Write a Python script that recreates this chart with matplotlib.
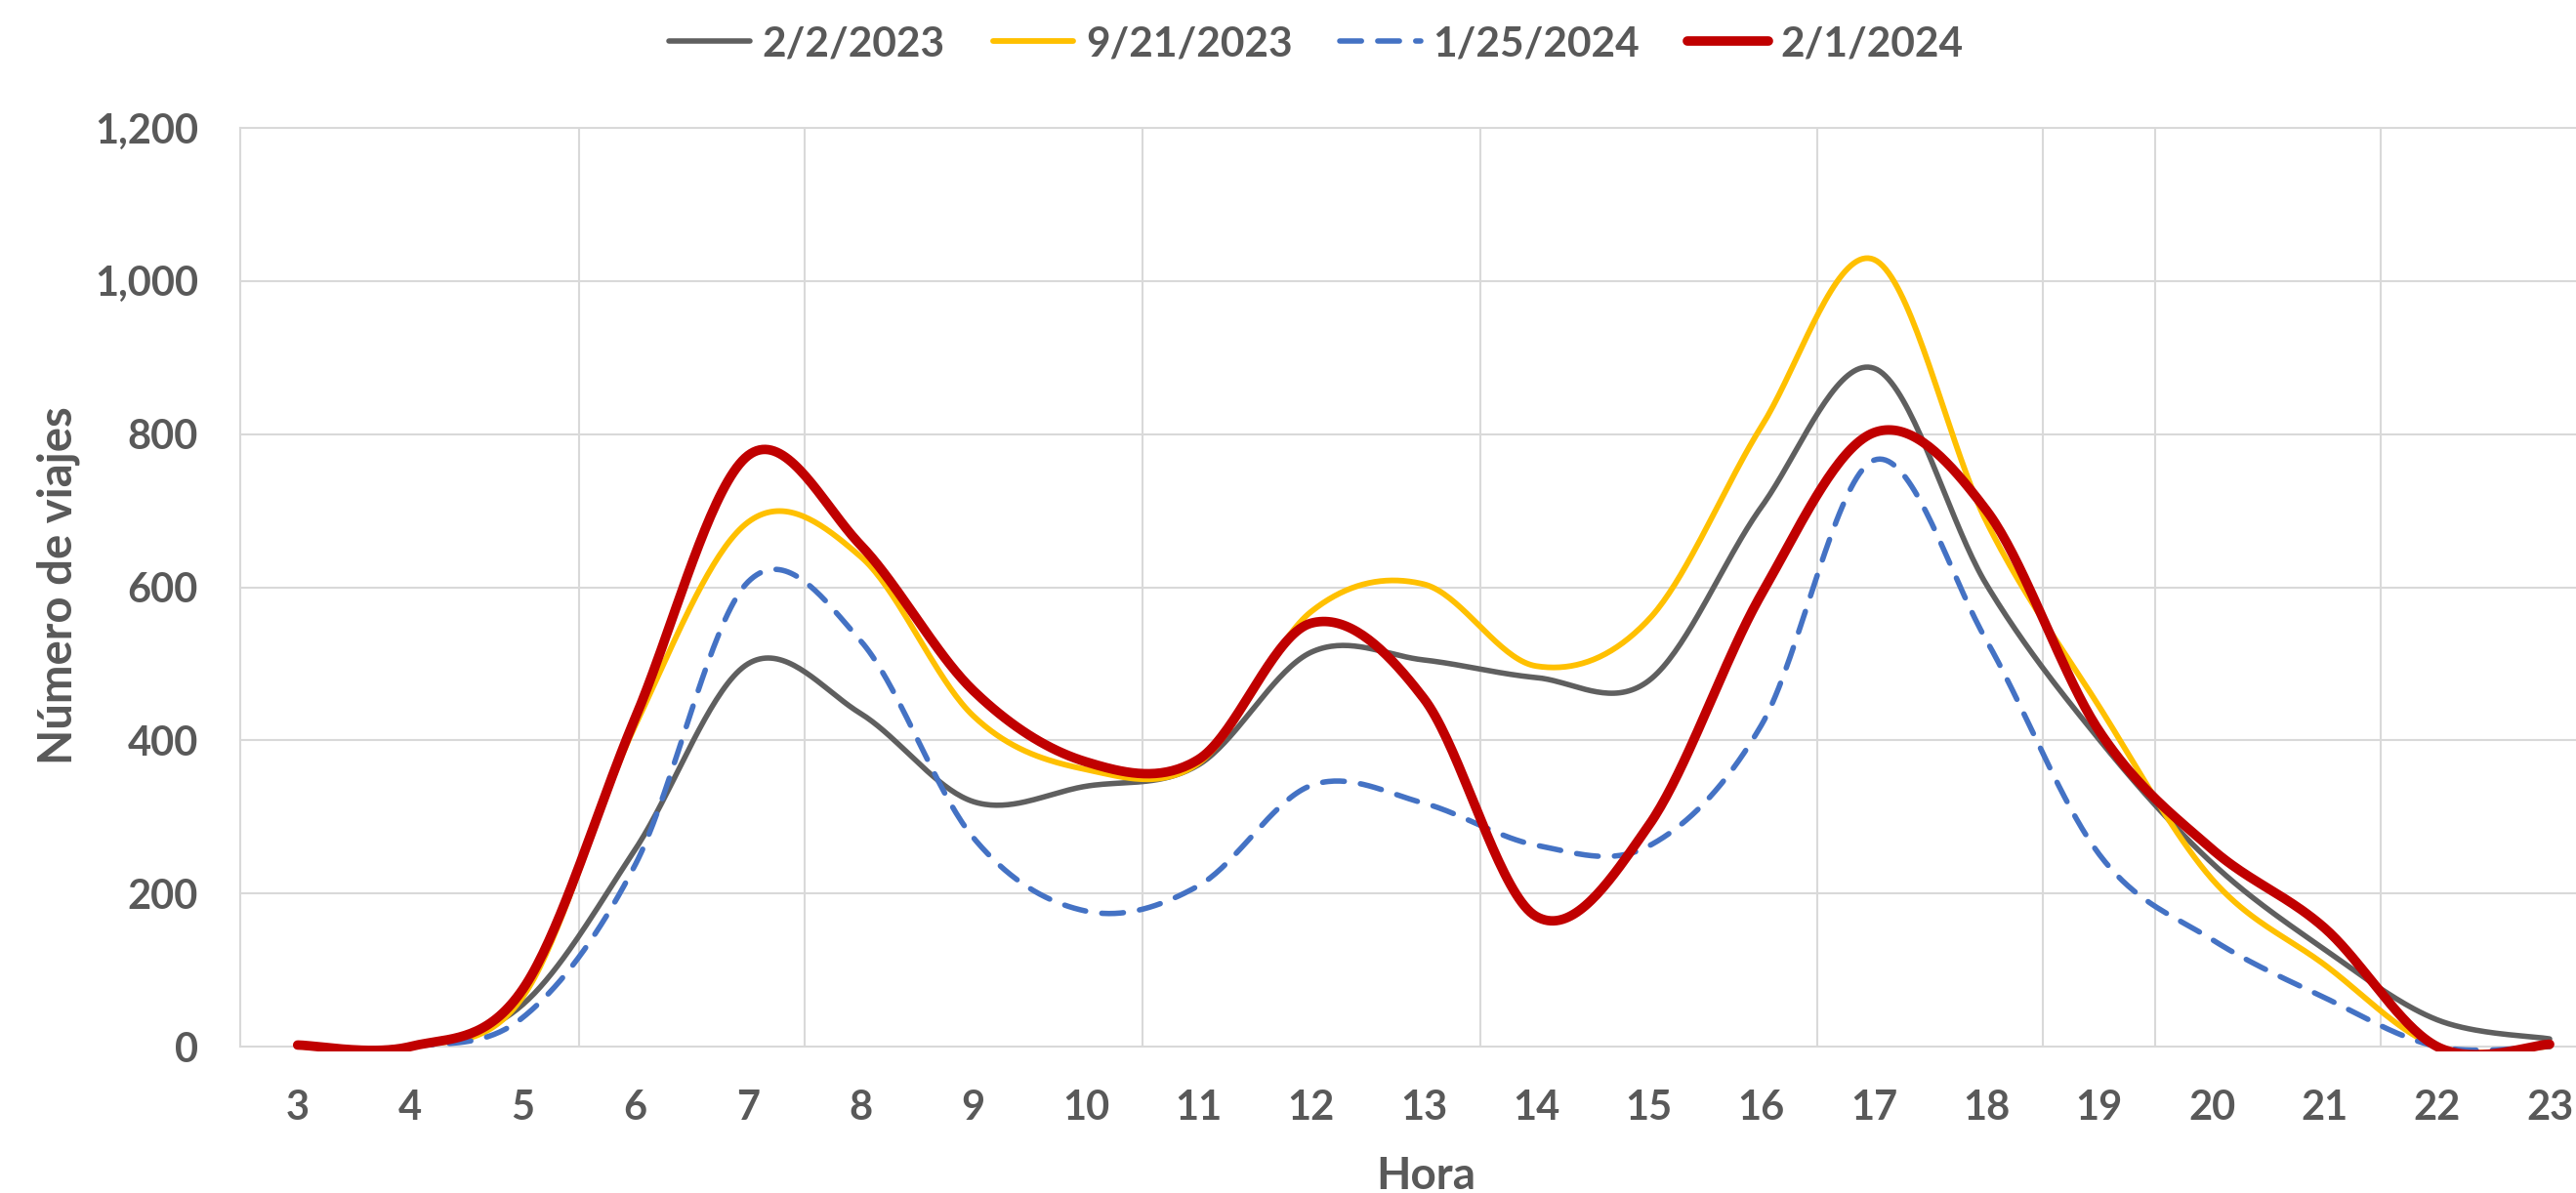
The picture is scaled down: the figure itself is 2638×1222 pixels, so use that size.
import numpy as np
import matplotlib
matplotlib.use("Agg")
import matplotlib.pyplot as plt
from matplotlib.transforms import Bbox, TransformedBbox

# ---------------- data ----------------
hours = list(range(3, 24))
hour_labels = [str(h) for h in hours]

series_names = ["2/2/2023", "9/21/2023", "1/25/2024", "2/1/2024"]
trips_2023_02_02 = [0, 0, 55, 258, 500, 435, 320, 340, 368, 515, 505, 482, 478, 705, 886, 603, 401, 240, 127, 35, 10]
trips_2023_09_21 = [0, 0, 65, 420, 685, 640, 432, 362, 370, 568, 604, 497, 558, 810, 1028, 685, 444, 219, 107, 0, 0]
trips_2024_01_25 = [0, 0, 38, 238, 607, 530, 273, 177, 210, 341, 318, 263, 262, 420, 766, 530, 251, 140, 64, 0, 0]
trips_2024_02_01 = [2, 0, 75, 430, 772, 655, 465, 372, 375, 553, 455, 170, 289, 591, 802, 700, 412, 258, 155, 0, 3]

y_ticks = [0, 200, 400, 600, 800, 1000, 1200]
vgrid_positions = [5.5, 7.5, 10.5, 13.5, 16.5, 18.5, 19.5, 21.5]

# ---------------- style ----------------
TEXT = "#595959"
GRID = "#D9D9D9"
FONT = ["Lato", "DejaVu Sans"]
plt.rcParams["font.family"] = FONT
plt.rcParams["font.weight"] = "bold"


def excel_smooth(x, y, n=40):
    """Bezier smoothing similar to Excel's 'smoothed line'."""
    x = np.asarray(x, float)
    y = np.asarray(y, float)
    xs, ys = [], []
    m = len(x)
    t = np.linspace(0, 1, n)
    for i in range(m - 1):
        i0 = max(i - 1, 0)
        i3 = min(i + 2, m - 1)
        for arr, out in ((x, xs), (y, ys)):
            p0, p1, p2, p3 = arr[i0], arr[i], arr[i + 1], arr[i3]
            c1 = p1 + (p2 - p0) / 6.0
            c2 = p2 - (p3 - p1) / 6.0
            seg = ((1 - t) ** 3) * p1 + 3 * ((1 - t) ** 2) * t * c1 + 3 * (1 - t) * t ** 2 * c2 + t ** 3 * p2
            out.append(seg if i == 0 else seg[1:])
    return np.concatenate(xs), np.concatenate(ys)


fig = plt.figure(figsize=(26.38, 12.22), dpi=100)
ax = fig.add_axes([246 / 2638, 1 - 1072 / 1222, 1 - 246 / 2638, (1072 - 131) / 1222])

ax.set_xlim(2.49, 23.234)
ax.set_ylim(0, 1200)

for s in ["top", "right", "bottom"]:
    ax.spines[s].set_visible(False)
ax.spines["left"].set_color(GRID)
ax.spines["left"].set_linewidth(1.5)

ax.set_yticks(y_ticks)
ax.set_yticklabels([f"{v:,}" for v in y_ticks])
ax.set_xticks(hours)
ax.set_xticklabels(hour_labels)
ax.tick_params(axis="both", length=0, labelsize=30, labelcolor=TEXT)
ax.tick_params(axis="y", pad=31)
ax.tick_params(axis="x", pad=32)
for lab in ax.get_xticklabels() + ax.get_yticklabels():
    lab.set_fontweight("bold")

ax.grid(False)
for yv in y_ticks:
    ax.axhline(yv, color=GRID, lw=1.5, zorder=0, clip_on=False)
for xv in vgrid_positions:
    ax.axvline(xv, color=GRID, lw=1.5, zorder=0)

styles = [
    (trips_2023_02_02, "#5F5F5F", 4.0, "-"),
    (trips_2023_09_21, "#FFC000", 4.2, "-"),
    (trips_2024_01_25, "#4472C4", 4.0, (0, (4, 3))),
    (trips_2024_02_01, "#C00000", 7.0, "-"),
]

clip = TransformedBbox(Bbox([[2.49, -6], [23.3, 1250]]), ax.transData)
handles = []
for (vals, col, lw, ls), name in zip(styles, series_names):
    sx, sy = excel_smooth(hours, vals)
    ln, = ax.plot(sx, sy, color=col, lw=lw, ls=ls, label=name, solid_capstyle="round",
                  dash_capstyle="round", zorder=3)
    ln.set_clip_box(clip)
    handles.append(ln)

leg = fig.legend(handles=handles, labels=series_names, loc="center",
                 bbox_to_anchor=(1348 / 2638, 1 - 45 / 1222), ncol=4, frameon=False,
                 fontsize=30.5, handlelength=1.95, handletextpad=0.3, columnspacing=1.15,
                 labelcolor=TEXT)
for t in leg.get_texts():
    t.set_fontweight("bold")

fig.text(60 / 2638, 1 - 600 / 1222, "Número de viajes", rotation=90, ha="center", va="center",
         fontsize=34, color=TEXT, fontweight="bold")
fig.text(1460 / 2638, 1 - 1205 / 1222, "Hora", ha="center", va="center",
         fontsize=33, color=TEXT, fontweight="bold")

fig.savefig("out.png", dpi=100, facecolor="white")
